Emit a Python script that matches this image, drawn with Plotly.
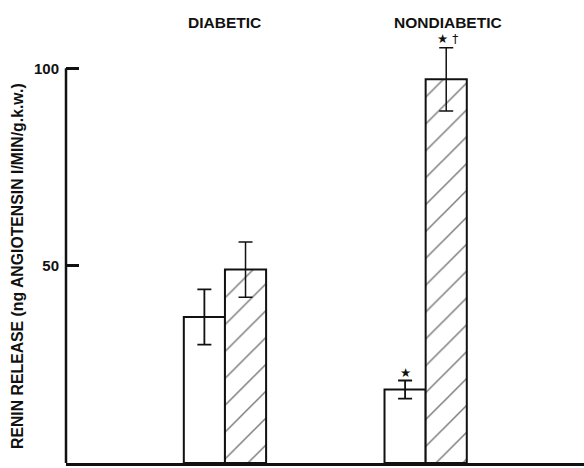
import plotly.graph_objects as go

# Renin release per group: open bars (basal) and hatched bars (stimulated)
groups = ["DIABETIC", "NONDIABETIC"]
group_pos = [0, 1]
basal_mean = [37.0, 18.6]
basal_sem = [7.0, 2.3]
stim_mean = [49.0, 97.2]
stim_sem = [7.0, 8.0]
y_ticks = [0, 50, 100]
y_tick_labels = ["0", "50", "100"]
basal_marks = ["", "\u2605"]
stim_marks = ["", "\u2605 <span style='font-size:12px'>\u2020</span>"]

FONT = "Liberation Sans"
BLACK = "#111111"

fig = go.Figure()

fig.add_trace(go.Bar(
    x=group_pos, y=basal_mean,
    marker=dict(color="white", line=dict(color=BLACK, width=2)),
    error_y=dict(type="data", array=basal_sem, color=BLACK, thickness=1.8, width=7),
    showlegend=False,
))
fig.add_trace(go.Bar(
    x=group_pos, y=stim_mean,
    marker=dict(color="white", line=dict(color=BLACK, width=2),
                pattern=dict(shape="/", fgcolor="#000000", bgcolor="white",
                             size=19, solidity=0.08)),
    error_y=dict(type="data", array=stim_sem, color=BLACK, thickness=1.5, width=7),
    showlegend=False,
))

annotations = []
# group headings
for gx, name in zip(group_pos, groups):
    annotations.append(dict(
        x=gx, y=1 - 22 / 463, xref="x", yref="paper", text=name,
        showarrow=False, xshift=0 if gx == 0 else 22, yanchor="middle",
        font=dict(family=FONT, size=15.5, color=BLACK, weight="bold"),
    ))
# significance marks above error bars
for gx, m, s, mark in zip(group_pos, basal_mean, basal_sem, basal_marks):
    if mark:
        annotations.append(dict(
            x=gx, y=m + s, xref="x", yref="y", text=mark, showarrow=False,
            xshift=-20.5, yanchor="bottom", yshift=-1,
            font=dict(family="DejaVu Sans", size=12.5, color=BLACK),
        ))
for gx, m, s, mark in zip(group_pos, stim_mean, stim_sem, stim_marks):
    if mark:
        annotations.append(dict(
            x=gx, y=m + s, xref="x", yref="y", text=mark, showarrow=False,
            xshift=22, yanchor="bottom", yshift=0,
            font=dict(family="DejaVu Sans", size=12.5, color=BLACK),
        ))
# vertical axis title
annotations.append(dict(
    x=(17 - 66) / 518, y=1 - 266 / 463, xref="paper", yref="paper",
    text="RENIN RELEASE (ng ANGIOTENSIN I/MIN/g.k.w.)", textangle=-90,
    showarrow=False, xanchor="center", yanchor="middle",
    font=dict(family=FONT, size=15.8, color=BLACK, weight="bold"),
))

fig.update_layout(
    width=584, height=468,
    margin=dict(l=66, r=0, t=0, b=5),
    paper_bgcolor="white", plot_bgcolor="white",
    barmode="group", bargap=0.59, bargroupgap=0,
    annotations=annotations,
    shapes=[dict(type="line", xref="paper", yref="y", x0=0, x1=0, y0=0, y1=100,
                 line=dict(color=BLACK, width=2.5))],
    xaxis=dict(range=[-0.792, 1.789], showline=True, linecolor=BLACK, linewidth=2.5,
               showticklabels=False, ticks="", showgrid=False, zeroline=False),
    yaxis=dict(range=[0, 117.3], showline=False, showgrid=False, zeroline=False,
               tickvals=y_ticks, ticktext=y_tick_labels, ticks="inside",
               ticklen=13, tickwidth=2.5, tickcolor=BLACK, ticklabelstandoff=6,
               tickfont=dict(family=FONT, size=15, color=BLACK, weight="bold")),
)

fig.write_html("out.html")
